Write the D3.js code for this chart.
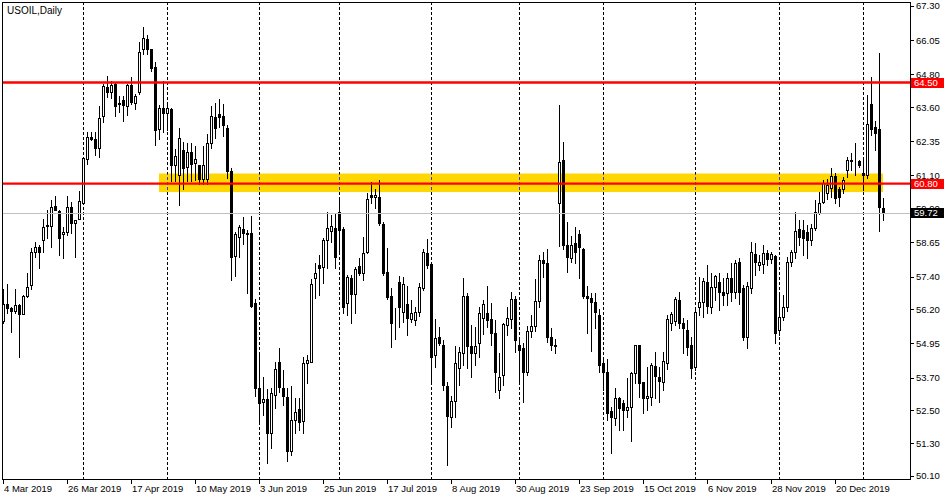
<!DOCTYPE html>
<html><head><meta charset="utf-8">
<script src="https://cdn.jsdelivr.net/npm/d3@7"></script>
<style>
html,body{margin:0;padding:0;background:#fff;}
svg{display:block;}
text{font-family:"Liberation Sans", Arial, sans-serif;}
</style></head><body>
<div id="chart"></div>
<script>
// ---- data ----
const title = "USOIL,Daily";
const open = [55.78,56.39,56.26,56.13,56.36,56.02,56.70,57.09,58.29,58.49,58.73,59.25,59.25,59.98,59.80,58.95,59.03,59.96,59.35,59.51,
60.10,61.69,62.52,62.42,62.11,63.29,64.35,64.15,64.44,63.73,63.85,63.63,64.40,63.76,64.15,65.72,66.08,65.72,65.07,62.79,
63.57,63.38,63.52,61.49,61.13,62.04,61.41,61.96,61.57,61.47,60.98,60.98,62.30,63.23,63.35,63.27,62.83,61.27,58.15,58.86,
59.13,59.00,59.00,56.42,53.31,52.82,52.90,51.67,53.07,54.29,53.33,52.98,51.03,52.15,52.54,52.13,54.23,54.29,57.34,57.82,
57.74,58.74,59.08,59.17,59.75,59.13,56.44,57.34,56.76,57.79,57.52,58.31,60.38,60.32,60.32,59.32,57.58,56.68,55.84,57.21,
56.12,56.40,55.84,55.81,56.12,56.97,58.27,57.86,54.53,55.20,54.90,53.40,52.25,52.86,54.04,54.59,56.69,54.86,54.59,54.98,
55.90,56.08,55.83,55.32,53.25,53.80,55.63,55.84,56.57,54.90,54.78,53.92,55.40,55.60,56.50,58.00,57.90,55.20,54.90,60.09,
61.66,58.55,58.07,58.62,58.96,58.40,56.69,56.60,56.48,56.00,54.23,53.92,52.49,52.22,52.94,52.76,52.52,52.63,53.86,54.90,
53.55,52.94,52.98,54.13,53.71,53.55,54.23,55.70,55.78,56.54,55.71,55.44,54.90,54.08,56.28,56.48,57.21,56.30,57.03,57.21,
56.85,56.79,57.34,56.85,57.94,56.97,55.18,56.97,58.23,57.82,57.86,58.27,58.03,58.15,55.44,55.93,56.30,57.94,58.31,59.13,
59.10,59.04,58.74,59.17,59.74,60.14,60.45,60.63,61.08,60.59,60.59,61.30,61.64,61.63,61.63,61.20,61.12,63.71,62.88,62.79,
59.90];
const high = [56.94,57.12,56.30,56.94,56.40,56.73,57.54,58.46,58.68,58.55,59.51,59.84,60.20,60.35,59.82,59.23,60.35,60.12,59.47,60.54,
61.75,62.70,62.70,62.70,63.64,64.45,64.74,64.54,64.48,64.01,64.01,64.46,64.70,64.09,65.98,66.53,66.23,65.74,65.25,63.67,
64.54,63.73,63.57,62.08,62.82,62.32,62.30,62.30,62.19,61.47,62.19,62.63,63.64,63.75,63.89,63.71,62.95,61.36,59.04,59.29,
59.59,59.10,59.62,56.57,54.57,53.71,53.27,53.31,54.29,54.77,53.98,53.31,53.40,52.95,52.95,54.47,54.53,57.30,57.91,58.19,
58.80,59.77,59.65,59.71,60.23,59.22,57.46,57.46,57.76,58.07,58.83,60.45,60.87,60.60,60.93,59.41,58.43,56.97,56.24,57.42,
57.40,57.05,56.54,56.30,57.15,58.40,58.76,57.86,55.84,55.57,55.08,53.55,53.03,54.86,54.83,57.34,56.81,55.63,55.57,56.30,
56.54,57.05,56.44,55.81,54.59,55.69,56.30,56.85,56.69,55.08,54.96,55.60,56.00,57.30,58.20,58.30,58.40,55.50,55.10,63.68,
62.32,59.41,58.88,59.22,59.10,58.44,57.05,56.81,56.81,56.20,54.35,54.38,52.64,53.31,53.00,52.88,53.68,53.92,54.90,54.90,
53.55,54.10,54.23,54.62,54.10,54.62,56.00,56.10,56.66,56.85,55.90,55.81,55.20,56.20,57.40,57.34,57.82,57.52,57.46,57.52,
57.34,57.52,57.88,58.00,58.07,57.09,57.20,58.68,58.63,58.19,58.55,58.37,58.30,58.20,56.73,56.73,58.13,58.37,59.77,59.47,
59.47,59.29,59.31,60.20,60.51,60.93,60.98,61.36,61.18,60.69,61.05,61.79,61.93,62.28,61.66,61.66,64.04,64.71,63.10,65.59,
60.26];
const low = [55.70,56.06,55.38,56.06,54.47,56.02,56.65,56.94,58.13,57.70,58.31,58.82,58.49,59.84,58.19,58.09,58.92,58.98,58.13,59.51,
60.10,61.52,62.40,61.85,61.76,63.07,63.98,63.93,63.28,63.42,63.10,63.30,63.73,63.52,64.09,65.55,65.53,64.92,62.23,62.42,
62.69,62.75,60.89,60.89,60.01,60.61,60.89,60.89,60.94,60.80,60.80,60.80,62.10,62.46,62.88,62.54,60.99,57.27,57.42,58.11,
58.59,56.81,56.28,53.03,52.01,52.34,50.57,51.12,52.58,53.19,52.70,50.66,50.87,51.67,51.79,51.69,53.52,54.29,56.60,56.73,
57.15,57.70,58.68,57.70,58.25,56.06,55.99,55.69,56.06,57.46,57.27,58.25,60.08,59.90,59.29,57.46,56.57,54.81,55.10,55.57,
55.75,55.26,55.74,55.63,55.96,56.91,57.71,53.52,54.10,54.89,53.25,50.51,51.88,52.27,53.43,54.17,54.04,53.74,54.17,54.47,
55.30,55.57,54.90,53.19,52.94,53.43,55.26,55.51,54.65,53.50,52.82,53.80,55.20,55.40,56.30,57.40,55.00,54.70,54.60,58.50,
58.40,57.58,57.94,57.89,57.34,56.60,55.35,54.69,55.50,53.92,53.25,52.15,50.96,51.97,51.80,51.79,52.27,51.38,53.49,53.00,
52.42,52.52,52.70,52.94,52.82,53.25,54.00,55.45,55.63,55.50,54.59,54.53,53.68,53.98,56.00,55.93,56.06,56.07,56.54,56.18,
56.36,56.36,56.50,56.60,56.40,55.08,54.78,56.80,57.46,57.64,57.52,57.82,57.90,54.96,55.26,55.80,56.15,57.80,58.07,58.55,
58.19,58.07,58.55,59.10,59.70,60.08,60.24,60.32,60.08,59.98,60.45,61.05,61.30,61.10,61.40,60.57,61.00,62.58,62.03,59.08,
59.47];
const close = [56.39,56.23,56.13,56.36,56.02,56.70,57.03,58.29,58.47,58.31,59.20,59.27,59.93,59.84,58.82,59.03,59.96,59.35,59.47,60.17,
61.73,62.52,62.43,62.11,63.21,64.38,64.16,64.42,63.63,63.74,63.67,64.40,63.79,64.01,65.62,66.13,65.72,65.04,62.75,63.57,
63.40,63.57,61.49,61.81,62.47,61.37,61.96,61.53,61.71,60.96,61.47,62.30,63.26,62.83,63.23,62.95,61.27,58.13,58.96,59.20,
59.00,58.97,56.32,53.31,52.78,52.90,51.67,53.13,54.01,53.37,53.03,51.03,52.15,52.46,52.09,54.25,54.35,57.13,57.54,57.70,
58.74,59.17,59.25,58.13,59.10,56.28,57.37,56.76,57.67,57.52,58.27,60.23,60.32,60.38,59.37,57.54,56.64,55.71,55.84,56.30,
57.13,55.87,56.06,56.12,57.03,58.31,57.82,54.45,55.14,54.96,53.43,52.28,52.86,54.23,54.63,56.69,54.86,54.59,54.86,56.06,
56.40,55.81,55.35,53.92,53.74,55.65,55.87,56.57,55.08,54.71,53.92,55.40,55.60,56.50,58.00,57.90,55.20,54.90,54.85,61.60,
58.55,58.13,58.55,58.31,58.47,56.69,56.60,56.48,56.12,54.17,53.92,52.42,52.25,52.94,52.60,52.52,52.64,53.86,54.90,53.49,
52.94,53.03,54.17,53.76,53.59,54.31,55.84,56.03,56.57,55.69,55.51,54.83,54.04,56.12,56.48,57.25,56.32,57.03,57.42,56.85,
56.73,57.34,56.85,57.88,56.85,55.20,57.05,58.31,57.94,57.94,58.27,58.03,58.23,55.35,55.93,56.30,57.94,58.31,59.08,58.86,
58.80,58.74,59.17,59.77,60.10,60.81,60.75,61.08,60.26,60.32,60.93,61.66,61.66,61.64,61.48,61.12,62.98,62.79,62.64,59.93,
59.71];
const priceTicks = [67.30,66.05,64.80,63.60,62.35,61.10,59.90,58.65,57.40,56.20,54.95,53.70,52.50,51.30,50.10];
const dateLabels = ["4 Mar 2019","26 Mar 2019","17 Apr 2019","10 May 2019","3 Jun 2019","25 Jun 2019","17 Jul 2019",
  "8 Aug 2019","30 Aug 2019","23 Sep 2019","15 Oct 2019","6 Nov 2019","28 Nov 2019","20 Dec 2019"];
const dateLabelBars = [0,16,32,48,64,80,96,112,128,144,160,176,192,208];
const monthSeparatorBars = [20,41,64,84,107,129,150,173,194,215];
const levelPrices = [64.50, 60.80];
const levelLabels = ["64.50", "60.80"];
const zonePrices = [60.49, 61.17];
const zoneBars = [39, 220];
const lastPrice = 59.72;
const lastLabel = "59.72";

// ---- drawing ----
const W = 950, H = 500;
const L = 2, R = 910, T = 2, B = 479;
const svg = d3.select("#chart").append("svg").attr("width", W).attr("height", H);
svg.append("rect").attr("width", W).attr("height", H).attr("fill", "#fff");

const x = d3.scaleLinear().domain([0, open.length - 1]).range([3, 883]);
const y = d3.scaleLinear().domain([50.10, 67.30]).range([476, 6]);
const col = i => Math.round(x(i)) + 0.5;
const py = p => Math.round(y(p)) + 0.5;

// yellow zone
const zTop = y(zonePrices[1]), zBot = y(zonePrices[0]);
svg.append("rect").attr("x", x(zoneBars[0])).attr("y", zTop)
  .attr("width", x(zoneBars[1]) - x(zoneBars[0])).attr("height", zBot - zTop)
  .attr("fill", "#FFD700");

// month separators (dashed)
const g = svg.append("g").attr("shape-rendering", "crispEdges");
monthSeparatorBars.forEach(b => {
  g.append("line").attr("x1", col(b)).attr("x2", col(b)).attr("y1", T).attr("y2", B)
    .attr("stroke", "#000").attr("stroke-dasharray", "3,2");
  if (x(b) >= x(zoneBars[0]) && x(b) <= x(zoneBars[1])) {
    g.append("line").attr("x1", col(b)).attr("x2", col(b)).attr("y1", zTop).attr("y2", zBot)
      .attr("stroke", "#2a3cff").attr("stroke-dasharray", "3,2")
      .attr("stroke-dashoffset", (zTop - T));
  }
});

// candles
const cg = svg.append("g").attr("shape-rendering", "crispEdges");
open.forEach((o, i) => {
  const c = close[i], cx = col(i);
  cg.append("line").attr("x1", cx).attr("x2", cx)
    .attr("y1", Math.round(y(high[i]))).attr("y2", Math.round(y(low[i])) + 1)
    .attr("stroke", "#000");
  const top = Math.round(y(Math.max(o, c))), bot = Math.round(y(Math.min(o, c)));
  if (c >= o) {
    cg.append("rect").attr("x", cx - 1).attr("y", top + 0.5).attr("width", 2)
      .attr("height", Math.max(bot - top, 0)).attr("fill", "#fff").attr("stroke", "#000");
  } else {
    cg.append("rect").attr("x", cx - 1.5).attr("y", top).attr("width", 3)
      .attr("height", Math.max(bot - top, 1) + 1).attr("fill", "#000");
  }
});

// last price line
svg.append("line").attr("x1", L).attr("x2", R).attr("y1", py(lastPrice)).attr("y2", py(lastPrice))
  .attr("stroke", "#c0c0c0").attr("shape-rendering", "crispEdges");

// level lines
levelPrices.forEach(p => {
  svg.append("line").attr("x1", L).attr("x2", R).attr("y1", y(p)).attr("y2", y(p))
    .attr("stroke", "#ff0000").attr("stroke-width", 2.4);
});

// frame
const fg = svg.append("g").attr("shape-rendering", "crispEdges").attr("stroke", "#000").attr("fill", "none");
fg.append("rect").attr("x", L + 0.5).attr("y", T + 0.5).attr("width", R - L).attr("height", B - T);

// price axis
const ag = svg.append("g");
priceTicks.forEach(p => {
  ag.append("line").attr("x1", R).attr("x2", R + 4).attr("y1", py(p)).attr("y2", py(p))
    .attr("stroke", "#000").attr("shape-rendering", "crispEdges");
  ag.append("text").attr("x", 916).attr("y", y(p)).attr("dy", "0.36em")
    .attr("font-size", 9.5).attr("fill", "#000").text(p.toFixed(2));
});

// date axis
dateLabelBars.forEach((b, k) => {
  ag.append("line").attr("x1", col(b)).attr("x2", col(b)).attr("y1", B).attr("y2", B + 5)
    .attr("stroke", "#000").attr("shape-rendering", "crispEdges");
  ag.append("text").attr("x", x(b) + 1).attr("y", 492)
    .attr("font-size", 9.5).attr("fill", "#000").text(dateLabels[k]);
});

// price label boxes (drawn over the axis labels, as in the reference)
function priceBox(p, label, bg) {
  const yc = y(p);
  ag.append("rect").attr("x", 911).attr("y", Math.round(yc) - 5).attr("width", 33).attr("height", 10)
    .attr("fill", bg).attr("shape-rendering", "crispEdges");
  ag.append("text").attr("x", 914).attr("y", Math.round(yc)).attr("dy", "0.36em")
    .attr("font-size", 9.5).attr("fill", "#fff").text(label);
}
levelPrices.forEach((p, k) => priceBox(p, levelLabels[k], "#ff0000"));
priceBox(lastPrice, lastLabel, "#000");

// title
svg.append("text").attr("x", 7).attr("y", 14).attr("font-size", 10).attr("fill", "#000").text(title);
</script>
</body></html>
